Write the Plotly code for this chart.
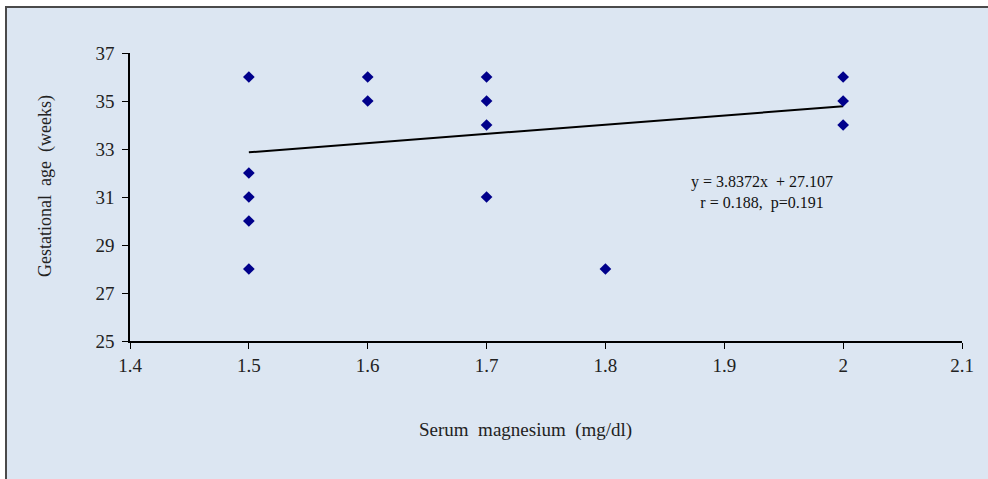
import plotly.graph_objects as go

# Data
mg = [1.5, 1.5, 1.5, 1.5, 1.5, 1.6, 1.6, 1.7, 1.7, 1.7, 1.7, 1.8, 2.0, 2.0, 2.0]
ga = [36, 32, 31, 30, 28, 36, 35, 36, 35, 34, 31, 28, 36, 35, 34]
slope = 3.8372
intercept = 27.107
fit_x = [1.5, 2.0]
fit_y = [slope * v + intercept for v in fit_x]
x_ticks = [1.4, 1.5, 1.6, 1.7, 1.8, 1.9, 2.0, 2.1]
x_tick_text = ["1.4", "1.5", "1.6", "1.7", "1.8", "1.9", "2", "2.1"]
y_ticks = [25, 27, 29, 31, 33, 35, 37]

FONT = "Liberation Serif, Times New Roman, serif"
W, H = 988, 479
L, R, T, B = 130, 26, 53, 138
pw, ph = W - L - R, H - T - B

def px(x):
    return (x - L) / pw

def py(y):
    return (H - B - y) / ph

fig = go.Figure()
fig.add_trace(go.Scatter(x=fit_x, y=fit_y, mode="lines",
                         line=dict(color="black", width=2), showlegend=False,
                         hoverinfo="skip"))
fig.add_trace(go.Scatter(x=mg, y=ga, mode="markers",
                         marker=dict(symbol="diamond", size=9, color="#00008b"),
                         showlegend=False))

fig.add_shape(type="rect", xref="paper", yref="paper",
              x0=px(6), x1=px(1000), y0=py(7), y1=py(500),
              fillcolor="#dce6f2", line=dict(color="#4a4a4a", width=2),
              layer="below")

fig.add_annotation(x=px(525), y=py(430), xref="paper", yref="paper",
                   xanchor="center", yanchor="middle",
                   text="Serum  magnesium  (mg/dl)", showarrow=False,
                   font=dict(family=FONT, size=19, color="#222"))
fig.add_annotation(x=px(45), y=py(186), xref="paper", yref="paper",
                   xanchor="center", yanchor="middle",
                   text="Gestational  age  (weeks)", showarrow=False, textangle=-90,
                   font=dict(family=FONT, size=18, color="#222"))
fig.add_annotation(x=px(762), y=py(192), xref="paper", yref="paper",
                   xanchor="center", yanchor="middle",
                   text=f"y = {slope}x  + {intercept}<br>r = 0.188,  p=0.191",
                   showarrow=False, align="center",
                   font=dict(family=FONT, size=16, color="#111"))

fig.update_xaxes(range=[1.4, 2.1], tickvals=x_ticks, ticktext=x_tick_text,
                 showgrid=False, zeroline=False, showline=True,
                 linecolor="black", linewidth=1.5, ticks="outside", ticklen=6,
                 tickcolor="black", tickfont=dict(family=FONT, size=19, color="#222"))
fig.update_yaxes(range=[25, 37], tickvals=y_ticks,
                 showgrid=False, zeroline=False, showline=True,
                 linecolor="black", linewidth=1.5, ticks="outside", ticklen=6,
                 ticklabelstandoff=4,
                 tickcolor="black", tickfont=dict(family=FONT, size=19, color="#222"))

fig.update_layout(width=W, height=H, margin=dict(l=L, r=R, t=T, b=B),
                  paper_bgcolor="white", plot_bgcolor="rgba(0,0,0,0)")
fig.write_html("out.html", config={"displayModeBar": False},
               post_script="document.body.style.margin='0';document.body.style.overflow='hidden';")
